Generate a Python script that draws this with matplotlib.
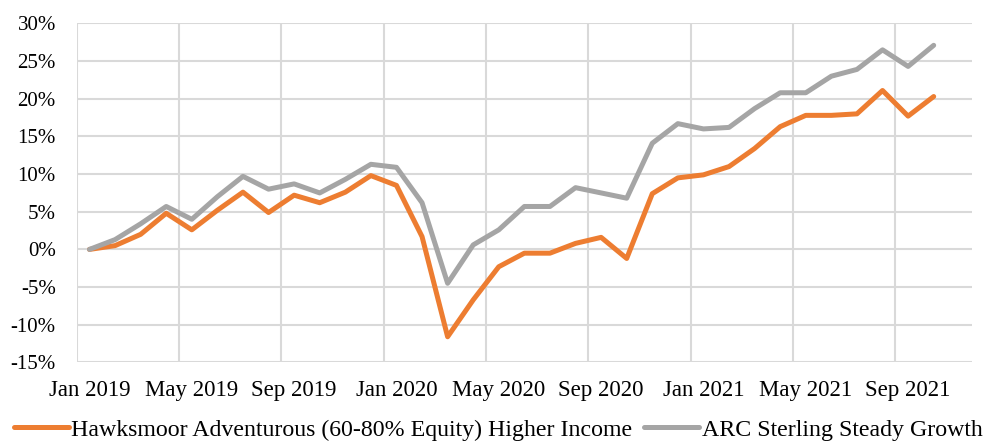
import matplotlib.pyplot as plt
import numpy as np
from matplotlib.ticker import FuncFormatter

plt.rcParams['font.family'] = ['Liberation Serif', 'DejaVu Serif']

# monthly cumulative return (%), Jan 2019 - Oct 2021
hawksmoor = [0.0, 0.5, 2.0, 4.8, 2.6, 5.2, 7.6, 4.9, 7.2, 6.2, 7.6, 9.8,
             8.5, 1.7, -11.6, -6.7, -2.3, -0.5, -0.5, 0.8, 1.6, -1.2, 7.4, 9.5,
             9.9, 11.0, 13.4, 16.3, 17.8, 17.8, 18.0, 21.1, 17.7, 20.3]
arc_steady = [0.0, 1.3, 3.4, 5.7, 4.0, 7.0, 9.7, 8.0, 8.7, 7.5, 9.3, 11.3,
              10.9, 6.2, -4.5, 0.6, 2.6, 5.7, 5.7, 8.2, 7.5, 6.8, 14.1, 16.7,
              16.0, 16.2, 18.7, 20.8, 20.8, 23.0, 23.9, 26.5, 24.3, 27.1]
n_months = 35  # axis runs Jan 2019 - Nov 2021
tick_labels = ['Jan 2019', 'May 2019', 'Sep 2019', 'Jan 2020', 'May 2020',
               'Sep 2020', 'Jan 2021', 'May 2021', 'Sep 2021']

series_names = ['Hawksmoor Adventurous (60-80% Equity) Higher Income',
                'ARC Sterling Steady Growth']

fig = plt.figure(figsize=[9.92, 4.43], dpi=100)
ax = fig.add_axes([0.0773, 0.182, 0.9026, 0.765])

x = np.arange(len(hawksmoor))
ax.plot(x, hawksmoor, color='#ED7D31', linewidth=3.6, label=series_names[0],
        solid_capstyle='round', solid_joinstyle='round')
ax.plot(x, arc_steady, color='#A5A5A5', linewidth=3.6, label=series_names[1],
        solid_capstyle='round', solid_joinstyle='round')

ax.set_xlim(-0.5, n_months - 0.5)
ax.set_ylim(-15, 30)
ax.set_yticks(np.arange(-15, 31, 5))
ax.yaxis.set_major_formatter(FuncFormatter(lambda v, p: f'{v:.0f}%'))

# labels on every 4th month, gridlines on category boundaries
ax.set_xticks(np.arange(0, n_months, 4))
ax.set_xticklabels(tick_labels)
ax.set_xticks(np.arange(-0.5, n_months - 1, 4), minor=True)
ax.grid(True, which='minor', axis='x', color='#D9D9D9', linewidth=1.5)
ax.grid(True, which='major', axis='y', color='#D9D9D9', linewidth=1.5)
ax.set_axisbelow(True)
ax.tick_params(which='both', length=0)
ax.tick_params(axis='x', labelsize=16.5, pad=13)
ax.tick_params(axis='y', labelsize=15, pad=15)
for s in ax.spines.values():
    s.set_visible(False)

fig.legend(loc='lower left', bbox_to_anchor=(14 / 992, 0.005), ncol=2, frameon=False,
           fontsize=17.2, handlelength=2.3, handletextpad=0.1, columnspacing=0.5,
           borderpad=0, borderaxespad=0)

fig.savefig('out.png', dpi=100)
